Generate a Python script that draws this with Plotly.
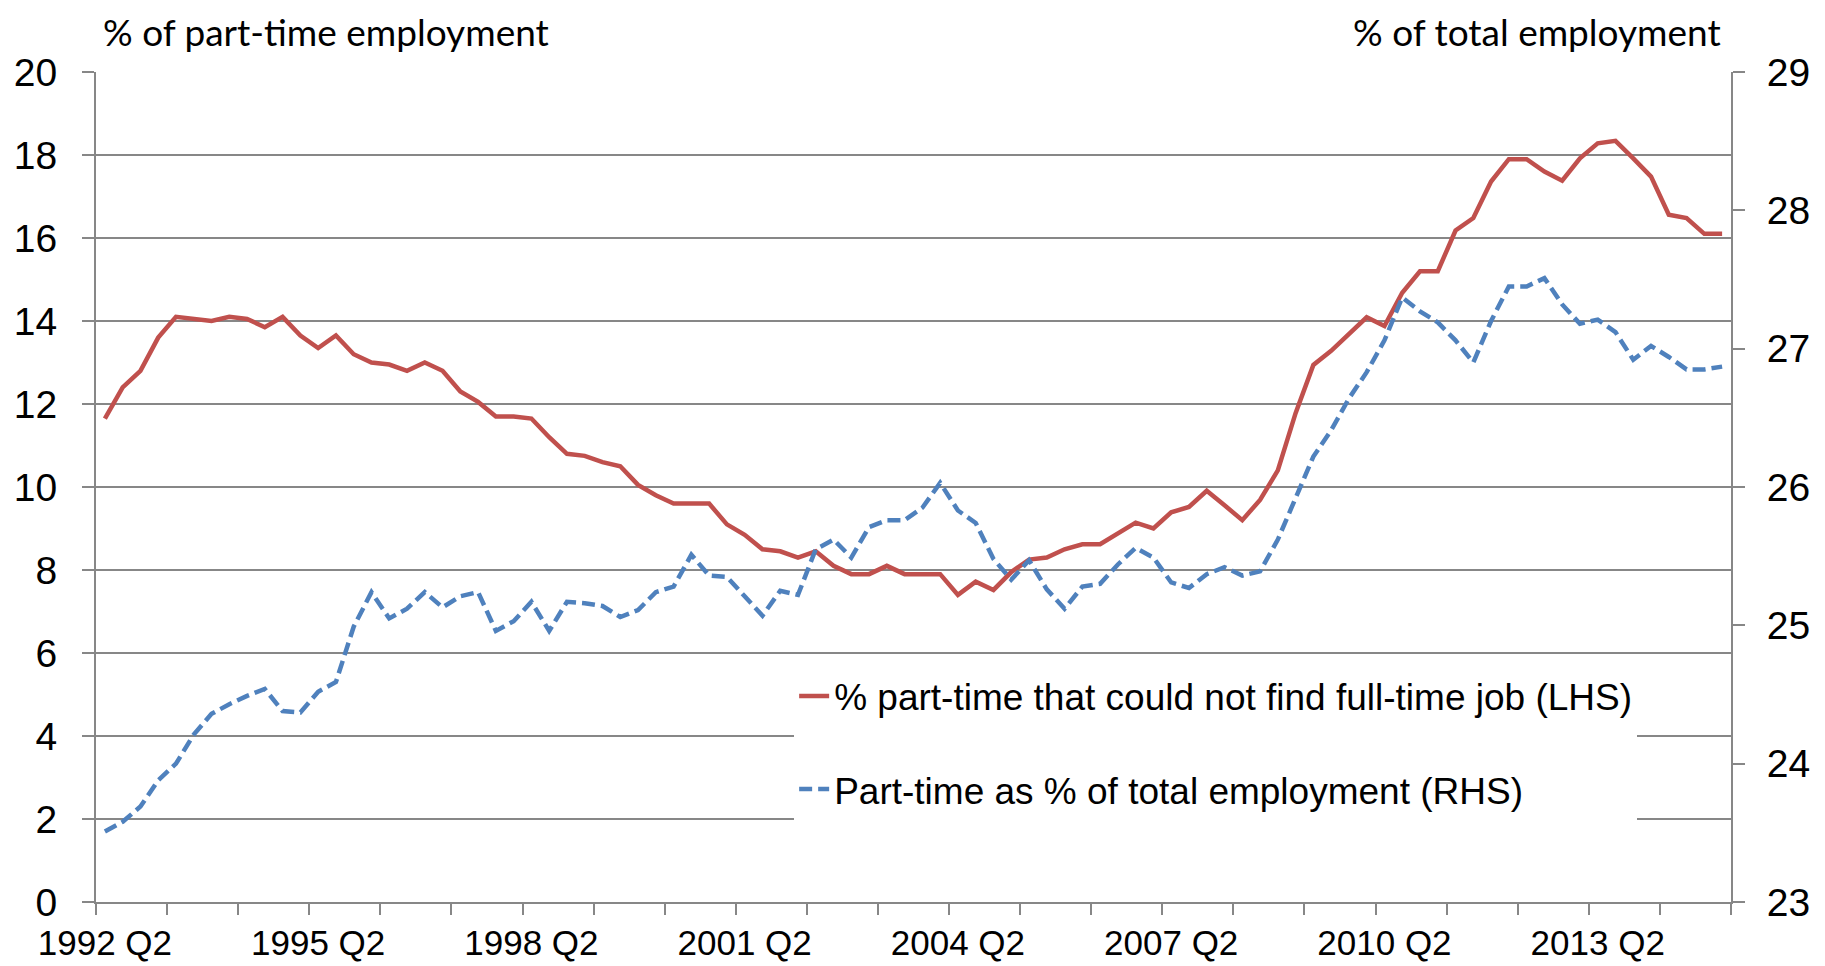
import plotly.graph_objects as go

# Quarterly observations, 1992 Q2 .. 2015 Q1
START_YEAR, START_Q = 1992, 2
N_QUARTERS = 92
QUARTERS = []
for k in range(N_QUARTERS):
    q = START_Q - 1 + k
    QUARTERS.append(f"{START_YEAR + q // 4} Q{q % 4 + 1}")

# % of part-time workers who could not find a full-time job (LHS)
INVOLUNTARY_PT = [
    11.65, 12.4, 12.8, 13.6, 14.1, 14.05, 14.0, 14.1, 14.05, 13.85,
    14.1, 13.65, 13.35, 13.65, 13.2, 13.0, 12.95, 12.8, 13.0, 12.8,
    12.3, 12.05, 11.7, 11.7, 11.65, 11.2, 10.8, 10.75, 10.6, 10.5,
    10.05, 9.8, 9.6, 9.6, 9.6, 9.1, 8.85, 8.5, 8.45, 8.3,
    8.45, 8.1, 7.9, 7.9, 8.1, 7.9, 7.9, 7.9, 7.4, 7.72,
    7.52, 7.95, 8.25, 8.3, 8.5, 8.62, 8.62, 8.88, 9.14, 9.0,
    9.39, 9.52, 9.91, 9.56, 9.2, 9.69, 10.4, 11.78, 12.94, 13.28,
    13.7, 14.09, 13.88, 14.68, 15.2, 15.2, 16.18, 16.48, 17.36, 17.9,
    17.9, 17.6, 17.38, 17.92, 18.28, 18.34, 17.92, 17.48, 16.56, 16.48,
    16.1, 16.1,
]

# Part-time as % of total employment (RHS)
PT_SHARE = [
    23.51, 23.58, 23.69, 23.88, 24.0, 24.21, 24.36, 24.43, 24.49, 24.54,
    24.38, 24.37, 24.52, 24.59, 24.99, 25.24, 25.05, 25.12, 25.24, 25.13,
    25.21, 25.24, 24.96, 25.03, 25.17, 24.96, 25.17, 25.16, 25.14, 25.06,
    25.11, 25.24, 25.28, 25.51, 25.36, 25.35, 25.21, 25.07, 25.25, 25.22,
    25.55, 25.62, 25.49, 25.71, 25.76, 25.76, 25.85, 26.03, 25.83, 25.74,
    25.48, 25.33, 25.47, 25.26, 25.12, 25.28, 25.3, 25.44, 25.56, 25.49,
    25.31, 25.27, 25.37, 25.42, 25.36, 25.39, 25.62, 25.91, 26.22, 26.41,
    26.64, 26.83, 27.06, 27.37, 27.27, 27.19, 27.06, 26.9, 27.2, 27.45,
    27.45, 27.51, 27.32, 27.18, 27.21, 27.12, 26.92, 27.02, 26.94, 26.85,
    26.85, 26.87,
]

LABEL_EVERY = 12
TICK_EVERY = 4

RED = "#C0504D"
BLUE = "#4F81BD"
GREY = "#878787"
SANS = "Liberation Sans, Arial, sans-serif"
X_TICK_FONT = dict(family=SANS, size=35, color="black")
Y_TICK_FONT = dict(family=SANS, size=39, color="black")
TITLE_FONT = dict(family="Lato, Calibri, sans-serif", size=37, color="black")

x = list(range(len(QUARTERS)))
label_idx = x[::LABEL_EVERY]

fig = go.Figure()
fig.add_trace(go.Scatter(
    x=x, y=INVOLUNTARY_PT, mode="lines", yaxis="y",
    name="% part-time that could not find full-time job (LHS)",
    line=dict(color=RED, width=4.5), legendgroup="a",
))
fig.add_trace(go.Scatter(
    x=x, y=PT_SHARE, mode="lines", yaxis="y2",
    name="Part-time as % of total employment (RHS)",
    line=dict(color=BLUE, width=4.5, dash="13px,6px"), legendgroup="b",
))

# page body adds an 8px offset, so the figure is sized to fit inside it
fig.update_layout(
    width=1817, height=958,
    margin=dict(l=88, r=94, t=64, b=64),
    paper_bgcolor="white", plot_bgcolor="white",
    showlegend=True,
    legend=dict(
        x=0.427, y=0.285, xanchor="left", yanchor="top",
        bgcolor="white", borderwidth=0,
        font=dict(family=SANS, size=37, color="black"),
        tracegroupgap=42, itemwidth=30,
    ),
    xaxis=dict(
        range=[-0.5, len(QUARTERS) - 0.5],
        tickmode="array", tickvals=label_idx,
        ticktext=[QUARTERS[i] for i in label_idx],
        ticks="", tickfont=X_TICK_FONT, ticklabelstandoff=9,
        showline=True, linecolor=GREY, linewidth=2,
        showgrid=False, zeroline=False, automargin=False,
        minor=dict(
            tickmode="array",
            tickvals=[i - 0.5 for i in range(0, len(QUARTERS) + 1, TICK_EVERY)],
            ticks="outside", ticklen=11, tickwidth=2, tickcolor=GREY,
            showgrid=False,
        ),
    ),
    yaxis=dict(
        range=[0, 20], dtick=2, tick0=0,
        ticks="outside", ticklen=12, tickwidth=2, tickcolor=GREY,
        tickfont=Y_TICK_FONT, ticklabelstandoff=17,
        showline=True, linecolor=GREY, linewidth=2,
        showgrid=True, gridcolor=GREY, gridwidth=2, zeroline=False,
        automargin=False,
    ),
    yaxis2=dict(
        range=[23, 29], dtick=1, tick0=23, overlaying="y", side="right",
        ticks="outside", ticklen=12, tickwidth=2, tickcolor=GREY,
        tickfont=Y_TICK_FONT, ticklabelstandoff=14,
        showline=True, linecolor=GREY, linewidth=2,
        showgrid=False, zeroline=False, automargin=False,
    ),
    annotations=[
        dict(text="% of part-time employment", xref="paper", yref="paper",
             x=0.003, y=1.049, xanchor="left", yanchor="middle",
             showarrow=False, font=TITLE_FONT),
        dict(text="% of total employment", xref="paper", yref="paper",
             x=0.995, y=1.049, xanchor="right", yanchor="middle",
             showarrow=False, font=TITLE_FONT),
    ],
)

fig.write_html("out.html")
